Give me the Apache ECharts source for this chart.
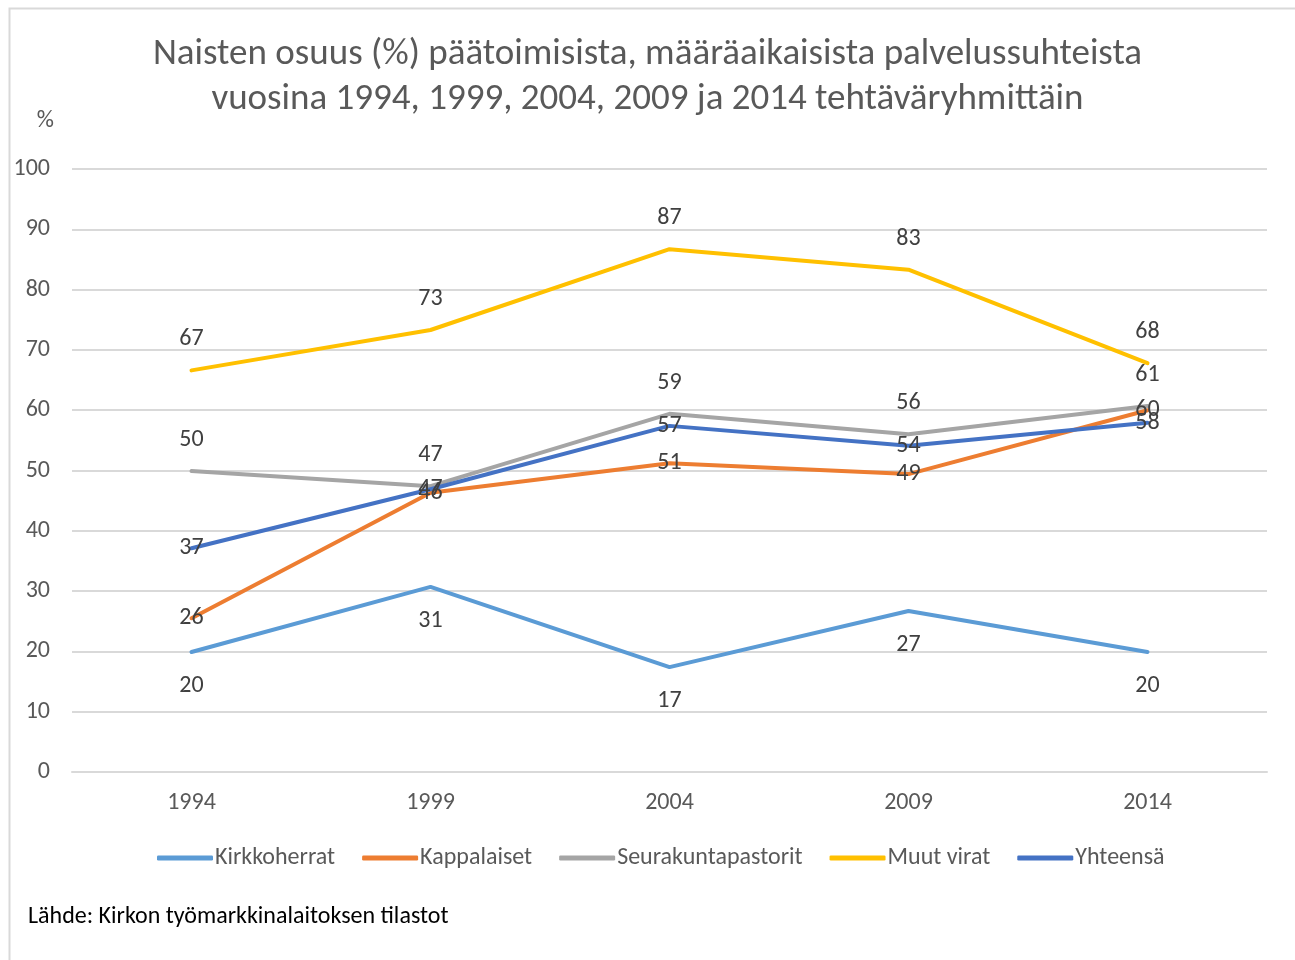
<!DOCTYPE html>
<html>
<head>
<meta charset="utf-8">
<script src="https://cdn.jsdelivr.net/npm/echarts@6/dist/echarts.min.js"></script>
<style>
  html, body { margin: 0; padding: 0; background: #fff; }
  #chart { width: 1295px; height: 960px; }
</style>
</head>
<body>
<div id="chart"></div>
<script>
  // vuodet ja sarjat
  const years = ['1994', '1999', '2004', '2009', '2014'];
  const kirkkoherrat = [19.9, 30.7, 17.4, 26.7, 19.9];
  const kappalaiset = [25.5, 46.3, 51.2, 49.4, 60.0];
  const seurakuntapastorit = [49.9, 47.4, 59.4, 56.0, 60.7];
  const muutVirat = [66.6, 73.3, 86.7, 83.3, 67.8];
  const yhteensa = [37.1, 46.9, 57.4, 54.1, 57.9];

  const font = 'Carlito, "Liberation Sans", sans-serif';

  const makeSeries = (name, data, color, pos, dist) => ({
    name,
    type: 'line',
    data,
    symbol: 'circle',
    symbolSize: 0,
    silent: true,
    lineStyle: { width: 4, color, cap: 'round', join: 'round' },
    itemStyle: { color },
    emphasis: { disabled: true },
    label: {
      show: true,
      position: pos,
      distance: dist,
      color: '#404040',
      fontSize: 24,
      fontFamily: font,
      formatter: (p) => Math.round(p.value),
    },
  });

  const chart = echarts.init(document.getElementById('chart'));

  const option = {
    animation: false,
    backgroundColor: '#fff',
    textStyle: { fontFamily: font },
    title: {
      text: 'Naisten osuus (%) päätoimisista, määräaikaisista palvelussuhteista\nvuosina 1994, 1999, 2004, 2009 ja 2014 tehtäväryhmittäin',
      left: 'center',
      top: 27,
      textStyle: {
        color: '#595959',
        fontSize: 37,
        fontWeight: 'normal',
        lineHeight: 45,
        fontFamily: font,
      },
    },
    grid: { left: 72, right: 28, top: 169, bottom: 188 },
    legend: {
      data: ['Kirkkoherrat', 'Kappalaiset', 'Seurakuntapastorit', 'Muut virat', 'Yhteensä'],
      bottom: 85,
      left: 152,
      icon: 'roundRect',
      itemWidth: 56,
      itemHeight: 5,
      itemGap: 27,
      textStyle: { color: '#595959', fontSize: 24, fontFamily: font, padding: [0, 0, 0, -3] },
    },
    xAxis: {
      type: 'category',
      data: years,
      boundaryGap: true,
      axisLine: { show: true, lineStyle: { color: '#d9d9d9', width: 2 } },
      axisTick: { show: false },
      axisLabel: { color: '#595959', fontSize: 24, margin: 19, fontFamily: font },
    },
    yAxis: {
      type: 'value',
      min: 0,
      max: 100,
      interval: 10,
      name: '%',
      nameLocation: 'end',
      nameGap: 36,
      nameTextStyle: { color: '#595959', fontSize: 24, align: 'right', padding: [0, 18, 0, 0], fontFamily: font },
      axisLine: { show: false },
      axisTick: { show: false },
      axisLabel: { color: '#595959', fontSize: 24, margin: 22, fontFamily: font },
      splitLine: { lineStyle: { color: '#d9d9d9', width: 2 } },
    },
    graphic: [
      {
        type: 'rect',
        shape: { x: 9.5, y: 8.5, width: 1300, height: 970 },
        style: { fill: 'none', stroke: '#d9d9d9', lineWidth: 2 },
        silent: true,
      },
      {
        type: 'text',
        left: 28,
        top: 905,
        style: {
          text: 'Lähde: Kirkon työmarkkinalaitoksen tilastot',
          fill: '#000',
          fontSize: 24,
          fontFamily: font,
        },
      },
    ],
    series: [
      makeSeries('Kirkkoherrat', kirkkoherrat, '#5B9BD5', 'bottom', 22),
      makeSeries('Kappalaiset', kappalaiset, '#ED7D31', 'inside', 0),
      makeSeries('Seurakuntapastorit', seurakuntapastorit, '#A5A5A5', 'top', 19),
      makeSeries('Muut virat', muutVirat, '#FFC000', 'top', 19),
      makeSeries('Yhteensä', yhteensa, '#4472C4', 'inside', 0),
    ],
  };

  chart.setOption(option);
</script>
</body>
</html>
